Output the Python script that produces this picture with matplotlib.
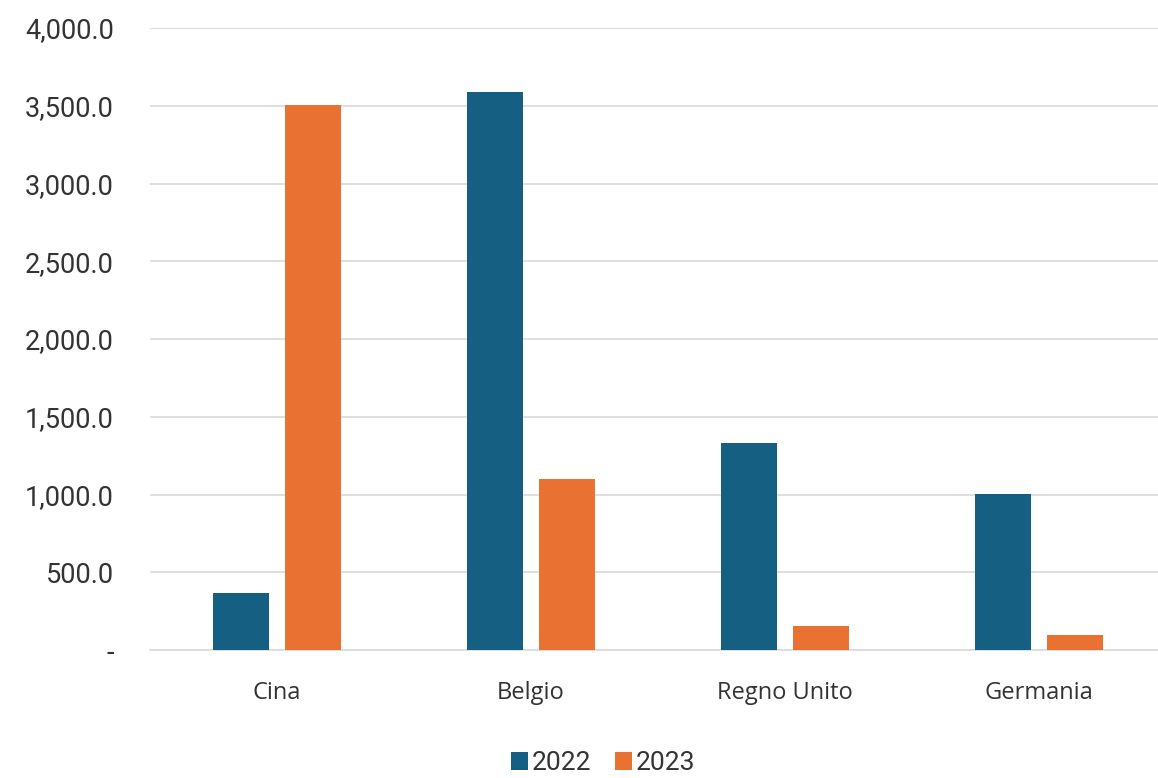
import matplotlib
matplotlib.use("Agg")
import matplotlib.pyplot as plt
import numpy as np
from matplotlib.ticker import FuncFormatter

categories = ["Cina", "Belgio", "Regno Unito", "Germania"]
values_2022 = [365, 3590, 1330, 1003]
values_2023 = [3505, 1100, 155, 97]
series_labels = ["2022", "2023"]
yticks = [0, 500, 1000, 1500, 2000, 2500, 3000, 3500, 4000]

plt.rcParams['font.family'] = ['Roboto', 'DejaVu Sans']

fig = plt.figure(figsize=(11.58, 7.78), dpi=100)
# axes extends slightly past the right edge (as in the reference crop)
ax = fig.add_axes([150 / 1158, 128 / 778, 1016 / 1158, 622 / 778])

x = np.arange(len(categories))
w = 0.22
off = 0.143
ax.bar(x - off, values_2022, w, color="#156082", label=series_labels[0], zorder=3)
ax.bar(x + off, values_2023, w, color="#E97132", label=series_labels[1], zorder=3)

ax.set_xlim(-0.5, len(categories) - 0.5)
ax.set_ylim(0, 4000)
ax.set_yticks(yticks)
ax.yaxis.set_major_formatter(FuncFormatter(lambda v, p: "-" if v == 0 else f"{v:,.1f}"))
ax.set_xticks(x)
ax.set_xticklabels(categories, fontfamily=['Open Sans', 'DejaVu Sans'], fontsize=17)
ax.grid(axis='y', color="#d9d9d9", linewidth=1.2, zorder=0)
for s in ["top", "right", "left"]:
    ax.spines[s].set_visible(False)
ax.spines["bottom"].set_color("#d9d9d9")
ax.spines["bottom"].set_linewidth(1.2)
ax.tick_params(axis='both', length=0, colors="#333333")
ax.tick_params(axis='y', labelsize=19.5, pad=26)
ax.tick_params(axis='x', pad=22)

fig.legend(*ax.get_legend_handles_labels(), loc="center", bbox_to_anchor=(603 / 1158, 1 - 763 / 778),
           ncol=2, frameon=False, fontsize=19, handlelength=0.65, handleheight=0.65,
           handletextpad=0.15, columnspacing=0.9, labelcolor="#333333", borderpad=0)

fig.savefig("out.png", dpi=100, facecolor="white")
